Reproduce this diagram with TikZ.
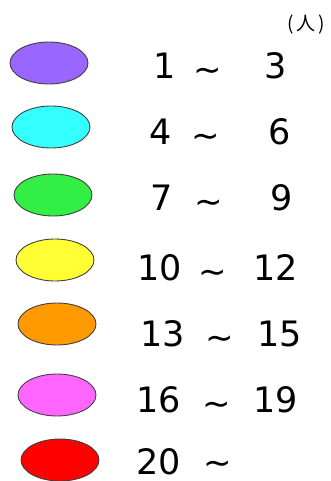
\documentclass[tikz,border=0pt]{standalone}
\usepackage{fontspec}
\usetikzlibrary{shapes.geometric}
\newfontfamily\numfont{DejaVu Sans}
\newfontfamily\jpfont{Noto Sans CJK JP}
\definecolor{lvpurple}{HTML}{9966FF}
\definecolor{lvcyan}{HTML}{33FFFF}
\definecolor{lvgreen}{HTML}{33EE44}
\definecolor{lvyellow}{HTML}{FFFF33}
\definecolor{lvorange}{HTML}{FF9900}
\definecolor{lvpink}{HTML}{FF66FF}
\definecolor{lvred}{HTML}{FF0000}

\begin{document}
\begin{tikzpicture}[
  x=1pt, y=-1pt,
  blob/.style={ellipse,draw=black!75,line width=0.9pt,minimum width=78pt,minimum height=42pt,inner sep=0pt},
  num/.style={anchor=base,inner sep=0pt,text depth=0pt,font=\numfont\fontsize{35}{35}\selectfont},
  wave/.style={anchor=base,inner sep=0pt,text depth=0pt,font=\numfont\fontsize{34}{34}\selectfont},
]
\useasboundingbox (0,0) rectangle (330,481);
\node[inner sep=0pt, font=\jpfont\fontsize{19}{19}\selectfont] (unit) at (306,25) {(\hspace{3pt}人\hspace{3pt})};

\node[blob, fill=lvpurple] (e1) at (49,63) {};
\node[blob, fill=lvcyan]   (e2) at (51,127) {};
\node[blob, fill=lvgreen]  (e3) at (53,195) {};
\node[blob, fill=lvyellow] (e4) at (55,260) {};
\node[blob, fill=lvorange] (e5) at (57,324) {};
\node[blob, fill=lvpink]   (e6) at (57,395) {};
\node[blob, fill=lvred]    (e7) at (60,460) {};

% ranges
\node[num] (lo1) at (165,79) {1};
\node[wave] (w1) at (208,82) {∼};
\node[num] (hi1) at (276,79) {3};

\node[num] (lo2) at (161,145) {4};
\node[wave] (w2) at (206,148) {∼};
\node[num] (hi2) at (280,145) {6};

\node[num] (lo3) at (162,210) {7};
\node[wave] (w3) at (209,213) {∼};
\node[num] (hi3) at (282,210) {9};

\node[num] (lo4) at (160,280) {10};
\node[wave] (w4) at (213,283) {∼};
\node[num] (hi4) at (276,280) {12};

\node[num] (lo5) at (163,346) {13};
\node[wave] (w5) at (220,349) {∼};
\node[num] (hi5) at (280,346) {15};

\node[num] (lo6) at (159,412) {16};
\node[wave] (w6) at (217,415) {∼};
\node[num] (hi6) at (276,412) {19};

\node[num] (lo7) at (159,474) {20};
\node[wave] (w7) at (218,474) {∼};
\end{tikzpicture}
\end{document}
